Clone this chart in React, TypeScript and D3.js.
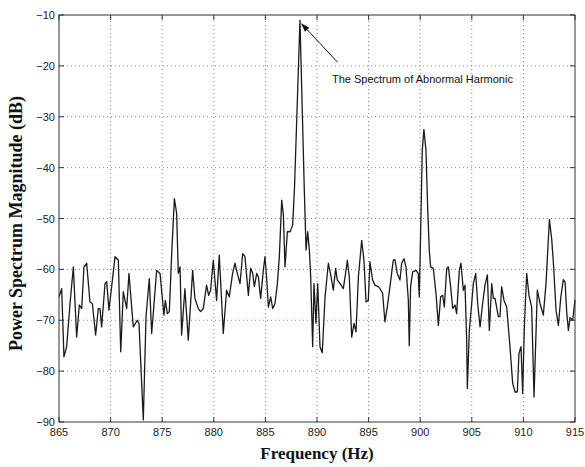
import React from 'react';
import * as d3 from 'd3';

// spectrum: frequency (Hz) and magnitude (dB)
const freqs = [
  865.0, 865.26, 865.48, 865.74, 866.07, 866.39, 866.71, 866.97, 867.2, 867.42,
  867.68, 868.0, 868.23, 868.55, 868.81, 868.97, 869.13, 869.46, 869.62, 869.84,
  870.1, 870.43, 870.75, 870.98, 871.23, 871.56, 871.78, 872.2, 872.59, 872.75,
  873.17, 873.43, 873.75, 873.98, 874.21, 874.46, 874.79, 875.17, 875.3, 875.5,
  875.69, 875.92, 876.18, 876.4, 876.56, 876.73, 876.88, 877.2, 877.53, 877.95,
  878.17, 878.5, 878.72, 878.98, 879.3, 879.5, 879.69, 879.95, 880.27, 880.53,
  880.92, 881.24, 881.5, 881.82, 882.05, 882.28, 882.54, 882.8, 883.02, 883.35,
  883.57, 883.77, 883.93, 884.16, 884.32, 884.54, 884.8, 884.96, 885.12, 885.29,
  885.51, 885.71, 885.93, 886.16, 886.35, 886.58, 886.74, 886.9, 887.13, 887.39,
  887.64, 887.82, 888.35, 888.67, 888.77, 888.94, 889.1, 889.26, 889.39, 889.58,
  889.71, 889.9, 890.07, 890.29, 890.51, 890.78, 891.1, 891.33, 891.58, 891.81,
  891.97, 892.23, 892.55, 892.81, 892.94, 893.13, 893.36, 893.59, 893.78, 894.01,
  894.33, 894.55, 894.75, 894.97, 895.13, 895.39, 895.62, 895.94, 896.1, 896.36,
  896.58, 896.81, 897.07, 897.39, 897.55, 897.78, 898.04, 898.2, 898.43, 898.62,
  898.85, 898.94, 899.07, 899.27, 899.59, 899.81, 899.91, 900.04, 900.2, 900.36,
  900.56, 900.72, 900.88, 901.01, 901.27, 901.53, 901.76, 901.98, 902.18, 902.34,
  902.57, 902.73, 902.95, 903.15, 903.37, 903.53, 903.79, 903.95, 904.18, 904.34,
  904.5, 904.57, 904.76, 904.99, 905.15, 905.38, 905.57, 905.8, 906.05, 906.28,
  906.51, 906.7, 906.93, 907.09, 907.25, 907.57, 907.73, 907.89, 908.12, 908.38,
  908.7, 908.96, 909.19, 909.41, 909.57, 909.77, 909.93, 910.09, 910.32, 910.54,
  910.8, 911.03, 911.35, 911.61, 911.93, 912.19, 912.52, 912.74, 912.91, 913.16,
  913.39, 913.62, 913.87, 914.04, 914.2, 914.36, 914.52, 914.78, 915.0,
];
const power = [
  -65.4, -63.8, -77.2, -75.2, -66.7, -59.5, -73.3, -67.0, -67.7, -59.5,
  -58.8, -66.4, -66.7, -72.9, -67.7, -67.7, -71.3, -62.8, -62.4, -68.0,
  -63.4, -57.5, -58.2, -76.2, -64.4, -67.7, -60.8, -71.3, -70.0, -70.6,
  -89.6, -69.3, -61.8, -72.6, -66.7, -60.2, -60.8, -69.0, -66.1, -68.7,
  -68.3, -56.9, -46.1, -49.0, -60.8, -59.5, -72.9, -63.8, -73.9, -60.2,
  -65.7, -67.7, -68.3, -67.7, -63.1, -65.1, -64.1, -58.2, -66.1, -57.2,
  -72.6, -64.1, -65.4, -60.8, -58.8, -60.8, -62.8, -56.9, -57.5, -65.1,
  -59.8, -60.8, -63.4, -60.8, -61.5, -65.7, -60.2, -57.5, -61.8, -67.4,
  -65.4, -67.7, -66.7, -62.8, -57.5, -46.4, -49.3, -59.5, -52.6, -52.6,
  -51.3, -44.0, -11.0, -36.5, -44.4, -56.2, -52.6, -56.2, -61.5, -75.2,
  -62.8, -70.6, -62.8, -75.2, -76.4, -65.4, -58.8, -61.1, -64.1, -59.8,
  -62.1, -62.8, -63.8, -60.2, -58.2, -61.5, -73.3, -70.6, -72.3, -61.5,
  -54.3, -58.2, -66.4, -66.1, -58.5, -62.1, -63.1, -63.4, -63.8, -64.7,
  -70.3, -67.4, -63.4, -58.2, -58.1, -60.8, -62.1, -58.8, -57.9, -59.5,
  -66.1, -75.0, -63.4, -60.5, -60.2, -60.8, -65.4, -52.9, -36.6, -32.5,
  -36.6, -47.7, -56.2, -59.5, -59.8, -64.7, -71.0, -65.4, -65.1, -67.4,
  -59.8, -59.5, -63.4, -67.7, -67.0, -68.7, -60.2, -58.8, -64.1, -63.1,
  -73.6, -83.4, -72.0, -66.7, -62.8, -60.8, -66.7, -71.3, -66.7, -63.1,
  -61.1, -72.0, -62.8, -65.7, -65.7, -69.3, -69.3, -63.4, -66.1, -67.4,
  -75.2, -82.4, -84.1, -84.1, -76.5, -75.2, -84.4, -71.3, -60.8, -65.1,
  -67.4, -85.1, -64.1, -66.7, -69.0, -62.8, -50.2, -54.0, -58.8, -68.0,
  -71.0, -65.5, -62.0, -62.5, -68.5, -72.0, -69.5, -70.0, -66.0,
];

const xTicks = [865, 870, 875, 880, 885, 890, 895, 900, 905, 910, 915];
const yTicks = [-10, -20, -30, -40, -50, -60, -70, -80, -90];

const noteText = 'The Spectrum of Abnormal Harmonic';
const noteTip = [888.45, -11.6];
const noteTail = [892.0, -19.3];
const noteAt = [891.45, -23.3];

const W = 585;
const H = 467;
const m = { left: 59, top: 15, right: 10, bottom: 45 };

export default function App() {
  const x = d3.scaleLinear().domain([865, 915]).range([m.left, W - m.right]);
  const y = d3.scaleLinear().domain([-90, -10]).range([H - m.bottom, m.top]);

  const pts = freqs.map((f, i) => [f, power[i]] as [number, number]);
  const line = d3.line<[number, number]>()
    .x(d => x(d[0]))
    .y(d => y(d[1]));

  const x0 = x.range()[0], x1 = x.range()[1];
  const y0 = y.range()[0], y1 = y.range()[1];
  const tk = 5;
  const fmtY = (v: number) => String(v).replace('-', '\u2212');

  // arrow head
  const tx = x(noteTip[0]), ty = y(noteTip[1]);
  const sx = x(noteTail[0]), sy = y(noteTail[1]);
  const ang = Math.atan2(ty - sy, tx - sx);
  const hl = 9, hw = 3;
  const bx = tx - hl * Math.cos(ang), by = ty - hl * Math.sin(ang);
  const head = [
    [tx, ty],
    [bx + hw * Math.sin(ang), by - hw * Math.cos(ang)],
    [bx - hw * Math.sin(ang), by + hw * Math.cos(ang)],
  ].map(p => p.join(',')).join(' ');

  return (
    <svg width={W} height={H} style={{ position: 'absolute', left: 0, top: 0, background: '#fff' }}>
      {/* grid */}
      <g stroke="#666" strokeWidth={0.8} strokeDasharray="1,3">
        {xTicks.slice(1, -1).map(v => (
          <line key={'gx' + v} x1={x(v)} x2={x(v)} y1={y0} y2={y1} />
        ))}
        {yTicks.slice(1, -1).map(v => (
          <line key={'gy' + v} x1={x0} x2={x1} y1={y(v)} y2={y(v)} />
        ))}
      </g>

      <path d={line(pts) || ''} fill="none" stroke="#1a1a1a" strokeWidth={1.3} strokeLinejoin="round" />

      {/* frame + inner ticks */}
      <rect x={x0} y={y1} width={x1 - x0} height={y0 - y1} fill="none" stroke="#333" strokeWidth={1} />
      <g stroke="#333" strokeWidth={1}>
        {xTicks.map(v => (
          <g key={'tx' + v}>
            <line x1={x(v)} x2={x(v)} y1={y0} y2={y0 - tk} />
            <line x1={x(v)} x2={x(v)} y1={y1} y2={y1 + tk} />
          </g>
        ))}
        {yTicks.map(v => (
          <g key={'ty' + v}>
            <line x1={x0} x2={x0 + tk} y1={y(v)} y2={y(v)} />
            <line x1={x1} x2={x1 - tk} y1={y(v)} y2={y(v)} />
          </g>
        ))}
      </g>

      <g fontFamily="Liberation Sans, Arial, sans-serif" fontSize={11} fill="#222">
        {xTicks.map(v => (
          <text key={'lx' + v} x={x(v)} y={y0 + 14} textAnchor="middle">{v}</text>
        ))}
        {yTicks.map(v => (
          <text key={'ly' + v} x={x0 - 4} y={y(v) + 4} textAnchor="end">{fmtY(v)}</text>
        ))}
      </g>

      {/* annotation */}
      <line x1={sx} y1={sy} x2={bx} y2={by} stroke="#111" strokeWidth={1} />
      <polygon points={head} fill="#111" />
      <text x={x(noteAt[0])} y={y(noteAt[1])} fontFamily="Liberation Sans, Arial, sans-serif" fontSize={11} fill="#111">
        {noteText}
      </text>

      <text x={(x0 + x1) / 2} y={H - 8} textAnchor="middle" fontFamily="Liberation Serif, Times New Roman, serif"
        fontWeight="bold" fontSize={17} fill="#111">Frequency (Hz)</text>
      <text transform={`translate(22,${(y0 + y1) / 2 + 5}) rotate(-90)`} textAnchor="middle"
        fontFamily="Liberation Serif, Times New Roman, serif" fontWeight="bold" fontSize={18} fill="#111">
        Power Spectrum Magnitude (dB)
      </text>
    </svg>
  );
}
